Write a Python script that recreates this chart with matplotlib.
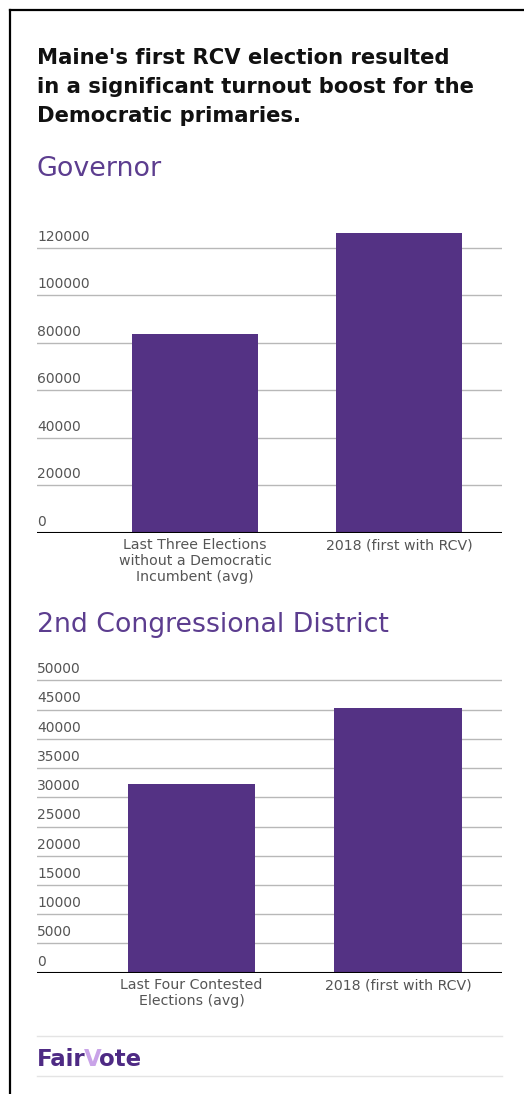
import matplotlib.pyplot as plt
from matplotlib.lines import Line2D
from matplotlib.transforms import blended_transform_factory, offset_copy

# data
gov_labels = ['Last Three Elections\nwithout a Democratic\nIncumbent (avg)', '2018 (first with RCV)']
gov_values = [83700, 126000]
gov_ticks = [0, 20000, 40000, 60000, 80000, 100000, 120000]

cd2_labels = ['Last Four Contested\nElections (avg)', '2018 (first with RCV)']
cd2_values = [32200, 45200]
cd2_ticks = [0, 5000, 10000, 15000, 20000, 25000, 30000, 35000, 40000, 45000, 50000]

W, H = 524, 1094
BAR = '#543284'
SUB = '#5c3d8f'
GRID = '#b8b8b8'
TICK = '#555555'

plt.rcParams['font.family'] = 'DejaVu Sans'
fig = plt.figure(figsize=(W / 100, H / 100), dpi=100)


def px_axes(left, top, right, bottom):
    return fig.add_axes([left / W, 1 - bottom / H, (right - left) / W, (bottom - top) / H])


def panel(ax, labels, values, ticks, ymax, xlim, width):
    ax.set_ylim(0, ymax)
    ax.set_xlim(*xlim)
    for t in ticks[1:]:
        ax.axhline(t, color=GRID, lw=1.0, zorder=1)
    ax.bar(range(len(values)), values, width=width, color=BAR, zorder=2)
    ax.axhline(0, color='black', lw=1.5, zorder=3)
    for s in ax.spines.values():
        s.set_visible(False)
    ax.set_yticks([])
    ax.set_xticks(range(len(labels)))
    ax.set_xticklabels(labels, fontsize=10.2, color=TICK, linespacing=1.15)
    ax.tick_params(axis='x', length=0, pad=4)
    tr = offset_copy(blended_transform_factory(ax.transAxes, ax.transData), fig=fig, x=0, y=3, units='points')
    for t in ticks:
        ax.text(0, t, str(t), transform=tr, fontsize=10, color=TICK, ha='left', va='bottom')


ax1 = px_axes(37, 532.7 - 130000 * 0.002375, 502, 532.7)
panel(ax1, gov_labels, gov_values, gov_ticks, 130000, (-0.775, 1.505), 0.618)

ax2 = px_axes(37, 972.7 - 52 * 5.848, 502, 972.7)
panel(ax2, cd2_labels, cd2_values, cd2_ticks, 52000, (-0.748, 1.504), 0.617)

# headings
fig.text(37 / W, 1 - 87 / H, "Maine's first RCV election resulted\nin a significant turnout boost for the\nDemocratic primaries.",
         fontsize=15.2, fontweight='bold', color='#111111', ha='left', va='center', linespacing=1.58)
fig.text(37 / W, 1 - 169 / H, 'Governor', fontsize=19.4, color=SUB, ha='left', va='center')
fig.text(37 / W, 1 - 625 / H, '2nd Congressional District', fontsize=19.3, color=SUB, ha='left', va='center')

# footer
for y in (1036, 1076):
    fig.add_artist(Line2D([37 / W, 502 / W], [1 - y / H, 1 - y / H], color='#e4e4e4', lw=1))

renderer = fig.canvas.get_renderer()
x = 37 / W
for part, col in (('Fair', '#4e2a84'), ('V', '#c9a3e8'), ('ote', '#4e2a84')):
    t = fig.text(x, 1 - 1060 / H, part, fontsize=16.5, fontweight='bold', color=col, ha='left', va='center')
    bb = t.get_window_extent(renderer)
    x = (bb.x1 - 2) / W

# frame
fig.add_artist(Line2D([9.5 / W, 9.5 / W], [0, 1 - 9.5 / H], color='black', lw=1.6))
fig.add_artist(Line2D([9.5 / W, 1], [1 - 9.5 / H, 1 - 9.5 / H], color='black', lw=1.6))

fig.savefig('out.png', dpi=100)
